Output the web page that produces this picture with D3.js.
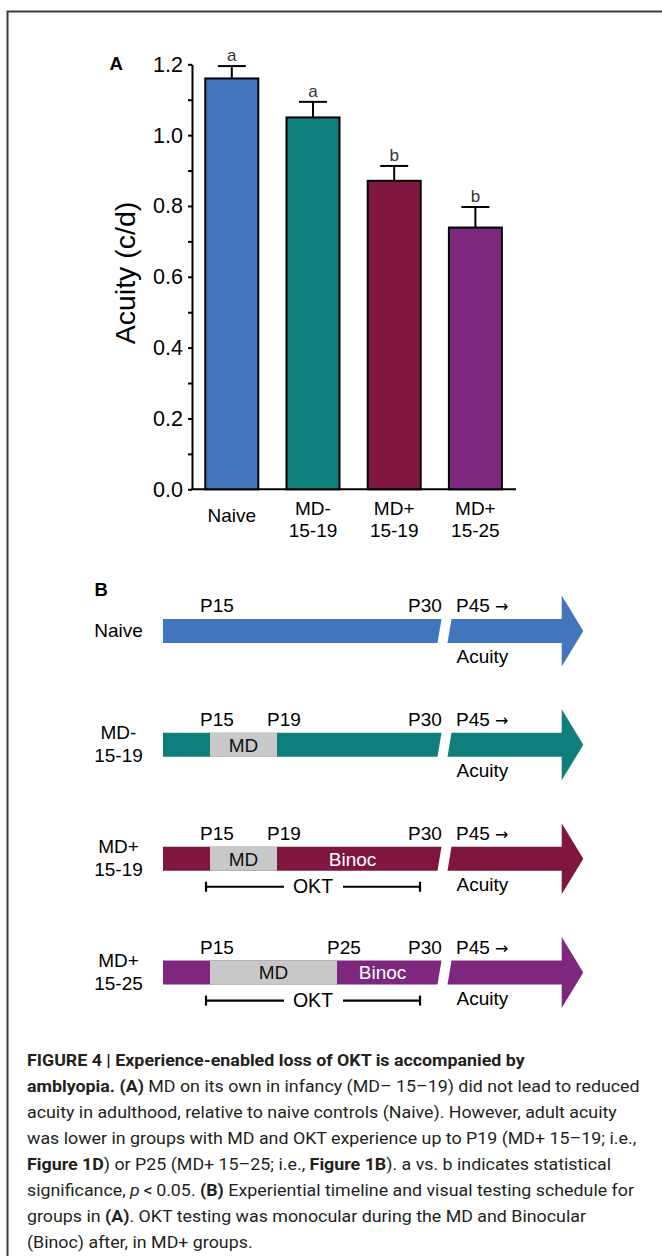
<!DOCTYPE html>
<html>
<head>
<meta charset="utf-8">
<script src="https://cdn.jsdelivr.net/npm/d3@7"></script>
<style>
  html, body { margin: 0; padding: 0; background: #fff; }
  svg { display: block; }
  text { font-family: "Liberation Sans", Arial, sans-serif; }
</style>
</head>
<body>
<script>
// ---------------- DATA ----------------
const categories = ["Naive", "MD-|15-19", "MD+|15-19", "MD+|15-25"];
const acuity = [1.160, 1.050, 0.871, 0.739];
const sem = [0.035, 0.044, 0.042, 0.058];
const sigLetters = ["a", "a", "b", "b"];
const barColors = ["#4176BC", "#0E7F7C", "#7E1640", "#7D287E"];
const yTicks = [0, 0.2, 0.4, 0.6, 0.8, 1.0, 1.2];
const yMinorTicks = [0.1, 0.3, 0.5, 0.7, 0.9, 1.1];

// Panel B timeline
const mdEndDay = [null, 19, 19, 25];
const hasBinoc = [false, false, true, true];
const hasOKT = [false, false, true, true];
const dayLabels = [[15], [15, 19], [15, 19], [15, 25]];
const timelineDays = [13, 15, 19, 25, 30];

// Caption
const captionLines = [
  [["b", "FIGURE 4 | Experience-enabled loss of OKT is accompanied by"]],
  [["b", "amblyopia. (A)"], ["r", " MD on its own in infancy (MD\u2013 15\u201319) did not lead to reduced"]],
  [["r", "acuity in adulthood, relative to naive controls (Naive). However, adult acuity"]],
  [["r", "was lower in groups with MD and OKT experience up to P19 (MD+ 15\u201319; i.e.,"]],
  [["b", "Figure 1D"], ["r", ") or P25 (MD+ 15\u201325; i.e., "], ["b", "Figure 1B"], ["r", "). a vs. b indicates statistical"]],
  [["r", "significance, "], ["i", "p"], ["r", "\u2009<\u20090.05. "], ["b", "(B)"], ["r", " Experiential timeline and visual testing schedule for"]],
  [["r", "groups in "], ["b", "(A)"], ["r", ". OKT testing was monocular during the MD and Binocular"]],
  [["r", "(Binoc) after, in MD+ groups."]]
];

// ---------------- SVG ----------------
const W = 662, H = 1256;
const svg = d3.select("body").append("svg").attr("width", W).attr("height", H);

// frame
svg.append("path").attr("d", `M7.5,${H} V11.5 H${W}`)
  .attr("fill", "none").attr("stroke", "#3c3c3c").attr("stroke-width", 2);

// ---------------- PANEL A ----------------
const y = d3.scaleLinear().domain([0, 1.2]).range([489.3, 64.3]);
const x = d3.scaleBand().domain(categories).range([192, 515.2])
  .paddingInner(0.3227).paddingOuter(0.1515);

const gA = svg.append("g");

// y axis
const yAxis = d3.axisLeft(y).tickValues(yTicks).tickSize(4).tickSizeOuter(0)
  .tickPadding(5).tickFormat(d3.format(".1f"));
const ya = gA.append("g").attr("transform", "translate(192,0)").call(yAxis);
ya.attr("font-family", null).attr("font-size", null);
ya.select(".domain").attr("stroke", "#000").attr("stroke-width", 2);
ya.selectAll(".tick line").attr("stroke", "#000").attr("stroke-width", 2);
ya.selectAll(".tick text").attr("fill", "#000")
  .style("font-size", "21.5px").style("font-family", "'Liberation Sans', Arial, sans-serif");
const yMinor = d3.axisLeft(y).tickValues(yMinorTicks).tickSize(4).tickFormat("");
const ym = gA.append("g").attr("transform", "translate(192,0)").call(yMinor);
ym.select(".domain").remove();
ym.selectAll(".tick line").attr("stroke", "#000").attr("stroke-width", 2);

// x axis line
gA.append("line").attr("x1", 191).attr("x2", 516)
  .attr("y1", y(0)).attr("y2", y(0)).attr("stroke", "#000").attr("stroke-width", 2);

// bars
const bw = x.bandwidth();
gA.selectAll("rect.bar").data(categories).join("rect").attr("class", "bar")
  .attr("x", d => x(d) + 1).attr("width", bw - 2)
  .attr("y", (d, i) => y(acuity[i]))
  .attr("height", (d, i) => y(0) - y(acuity[i]))
  .attr("fill", (d, i) => barColors[i])
  .attr("stroke", "#000").attr("stroke-width", 2);

// error bars
const capW = 28;
categories.forEach((c, i) => {
  const cx = x(c) + bw / 2;
  gA.append("line").attr("x1", cx).attr("x2", cx)
    .attr("y1", y(acuity[i])).attr("y2", y(acuity[i] + sem[i]))
    .attr("stroke", "#000").attr("stroke-width", 2);
  gA.append("line").attr("x1", cx - capW / 2).attr("x2", cx + capW / 2)
    .attr("y1", y(acuity[i] + sem[i])).attr("y2", y(acuity[i] + sem[i]))
    .attr("stroke", "#000").attr("stroke-width", 2);
  gA.append("text").attr("x", cx).attr("y", y(acuity[i] + sem[i]) - 5)
    .attr("text-anchor", "middle").attr("font-size", 17).attr("fill", "#333")
    .text(sigLetters[i]);
});

// x labels
categories.forEach((c, i) => {
  const cx = x(c) + bw / 2;
  const parts = c.split("|");
  if (parts.length === 1) {
    gA.append("text").attr("x", cx).attr("y", 522).attr("text-anchor", "middle")
      .attr("font-size", 19).attr("fill", "#000").text(parts[0]);
  } else {
    parts.forEach((p, j) => {
      gA.append("text").attr("x", cx).attr("y", 515 + j * 21.5).attr("text-anchor", "middle")
        .attr("font-size", 19).attr("fill", "#000").text(p);
    });
  }
});

// y label
gA.append("text").attr("transform", "translate(135,273) rotate(-90)")
  .attr("text-anchor", "middle").attr("font-size", 28.5).attr("fill", "#000")
  .text("Acuity (c/d)");

// panel letter
gA.append("text").attr("x", 109.5).attr("y", 69.5).attr("font-size", 18.5)
  .attr("font-weight", "bold").attr("fill", "#000").text("A");

// ---------------- PANEL B ----------------
const gB = svg.append("g");
gB.append("text").attr("x", 94.5).attr("y", 595.5).attr("font-size", 18.5)
  .attr("font-weight", "bold").attr("fill", "#000").text("B");

const tx = d3.scaleLinear().domain(timelineDays).range([163, 210, 277, 337, 440]);
const rowY = d3.scalePoint().domain(categories).range([631, 972.6]);
const bodyH = 12, headH = 35.5;
const rightStart = 451.5, headBase = 561.7, tipX = 583.3;
const fsB = 19;

categories.forEach((c, i) => {
  const cy = rowY(c);
  const col = barColors[i];
  const top = cy - bodyH, bot = cy + bodyH;
  const x0 = tx(13), xb = tx(30);
  // left body
  gB.append("path")
    .attr("d", `M${x0},${top} L${xb + 1.5},${top} L${xb - 2.5},${bot} L${x0},${bot} Z`)
    .attr("fill", col);
  // right arrow
  gB.append("path")
    .attr("d", `M${rightStart},${top} L${headBase},${top} L${headBase},${cy - headH} L${tipX},${cy} ` +
      `L${headBase},${cy + headH} L${headBase},${bot} L${rightStart - 4},${bot} Z`)
    .attr("fill", col);
  // MD box
  if (mdEndDay[i] !== null) {
    gB.append("rect").attr("x", tx(15)).attr("y", top)
      .attr("width", tx(mdEndDay[i]) - tx(15)).attr("height", bot - top)
      .attr("fill", "#C8C8C8");
    gB.append("text").attr("x", (tx(15) + tx(mdEndDay[i])) / 2).attr("y", cy + 6.8)
      .attr("text-anchor", "middle").attr("font-size", fsB).attr("fill", "#111").text("MD");
  }
  if (hasBinoc[i]) {
    gB.append("text").attr("x", (tx(mdEndDay[i]) + xb - 12) / 2).attr("y", cy + 6.8)
      .attr("text-anchor", "middle").attr("font-size", fsB).attr("fill", "#fff").text("Binoc");
  }
  // day labels
  dayLabels[i].forEach(d => {
    gB.append("text").attr("x", tx(d) - 10).attr("y", cy - 19)
      .attr("font-size", fsB).attr("fill", "#000").text("P" + d);
  });
  gB.append("text").attr("x", xb - 32).attr("y", cy - 19)
    .attr("font-size", fsB).attr("fill", "#000").text("P30");
  const p45 = gB.append("text").attr("x", 456).attr("y", cy - 19)
    .attr("font-size", fsB).attr("fill", "#000");
  p45.append("tspan").text("P45 ");
  p45.append("tspan").style("font-family", "'DejaVu Sans', sans-serif")
    .attr("font-size", 16).text("\u2192");
  gB.append("text").attr("x", 456.5).attr("y", cy + 32)
    .attr("font-size", fsB).attr("fill", "#000").text("Acuity");
  // row label
  const parts = c.split("|");
  if (parts.length === 1) {
    gB.append("text").attr("x", 118.5).attr("y", cy + 6).attr("text-anchor", "middle")
      .attr("font-size", fsB).attr("fill", "#000").text(parts[0]);
  } else {
    parts.forEach((p, j) => {
      gB.append("text").attr("x", 118.5).attr("y", cy - 6 + j * 23).attr("text-anchor", "middle")
        .attr("font-size", fsB).attr("fill", "#000").text(p);
    });
  }
  // OKT bar
  if (hasOKT[i]) {
    const ly = cy + 28, a = tx(15) - 4, b = xb - 20, mid = (a + b) / 2;
    const seg = [[a, mid - 29], [mid + 30, b]];
    seg.forEach(s => gB.append("line").attr("x1", s[0]).attr("x2", s[1]).attr("y1", ly).attr("y2", ly)
      .attr("stroke", "#000").attr("stroke-width", 2.2));
    [a, b].forEach(e => gB.append("line").attr("x1", e).attr("x2", e).attr("y1", ly - 5).attr("y2", ly + 5)
      .attr("stroke", "#000").attr("stroke-width", 2.2));
    gB.append("text").attr("x", mid).attr("y", cy + 34).attr("text-anchor", "middle")
      .attr("font-size", 19.5).attr("fill", "#000").text("OKT");
  }
});

// ---------------- CAPTION ----------------
const capG = svg.append("g");
const capText = [];
captionLines.forEach((line, li) => {
  const t = capG.append("text").attr("x", 0).attr("y", 1066 + li * 26)
    .attr("font-size", 17).attr("fill", "#231F20")
    .style("font-family", "Roboto, 'Liberation Sans', sans-serif");
  line.forEach(([st, s]) => {
    const sp = t.append("tspan").text(s);
    if (st === "b") sp.attr("font-weight", 700);
    if (st === "i") sp.attr("font-style", "italic");
  });
  capText.push(t);
});
// condense horizontally so line 3 spans to its measured end
const w3 = capText[2].node().getComputedTextLength();
const k = (617 - 27) / w3;
capG.attr("transform", `translate(27,0) scale(${k},1)`);
</script>
</body>
</html>
